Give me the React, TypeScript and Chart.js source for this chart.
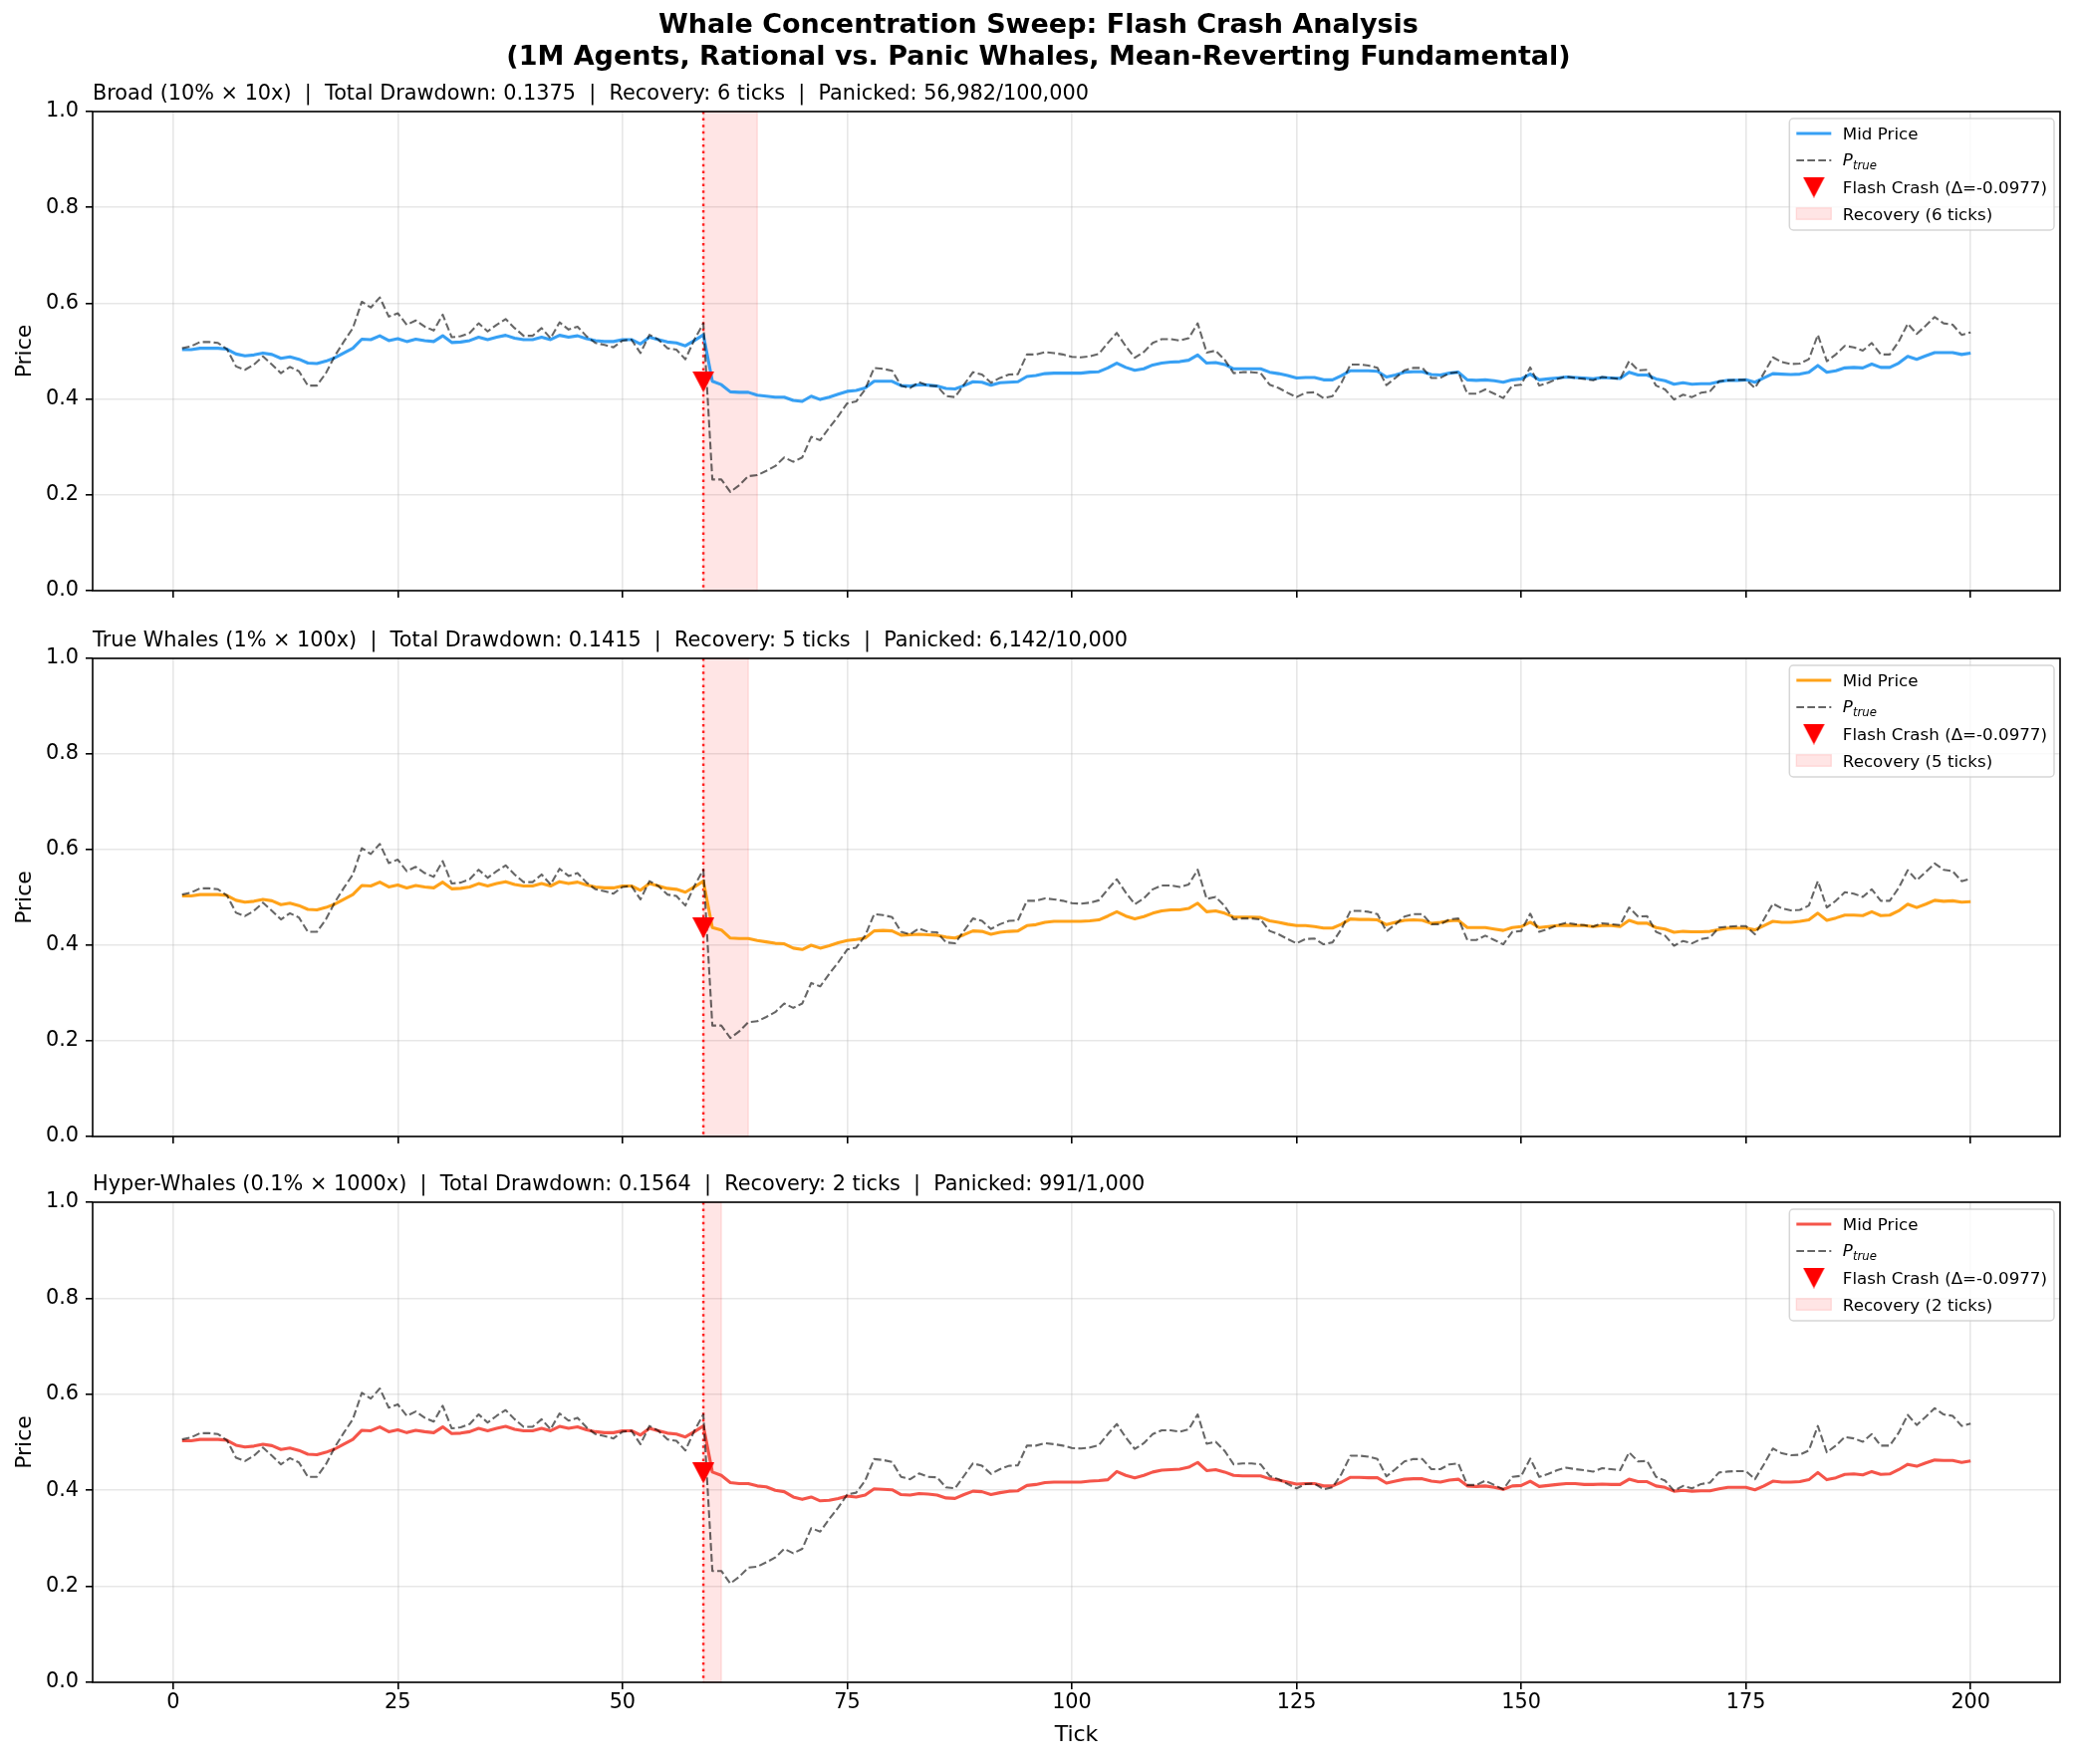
import React, { useEffect, useRef } from 'react';
import { Chart, registerables } from 'chart.js';

Chart.register(...registerables);

const FONT = '"DejaVu Sans", "Liberation Sans", sans-serif';

// ---- data ---------------------------------------------------------------

const SUPTITLE_LINES = [
  'Whale Concentration Sweep: Flash Crash Analysis',
  '(1M Agents, Rational vs. Panic Whales, Mean-Reverting Fundamental)',
];

// simulation ticks 1..200
const TICKS = Array.from({ length: 200 }, (_, i) => i + 1);

const X_TICKS = [0, 25, 50, 75, 100, 125, 150, 175, 200];
const Y_TICKS = [0, 0.2, 0.4, 0.6, 0.8, 1.0];

// fundamental price (shared by all three runs)
const P_TRUE = [
  0.506, 0.510, 0.519, 0.519, 0.517, 0.504, 0.468, 0.461, 0.472, 0.489,
  0.472, 0.454, 0.467, 0.458, 0.428, 0.428, 0.454, 0.490, 0.520, 0.548,
  0.603, 0.591, 0.612, 0.572, 0.579, 0.555, 0.564, 0.551, 0.543, 0.576,
  0.529, 0.531, 0.538, 0.558, 0.541, 0.555, 0.567, 0.548, 0.532, 0.532,
  0.548, 0.527, 0.560, 0.545, 0.551, 0.531, 0.517, 0.513, 0.508, 0.522,
  0.524, 0.496, 0.534, 0.524, 0.506, 0.503, 0.483, 0.524, 0.558, 0.232,
  0.232, 0.206, 0.220, 0.239, 0.241, 0.250, 0.260, 0.278, 0.269, 0.278,
  0.321, 0.314, 0.340, 0.364, 0.391, 0.395, 0.420, 0.465, 0.463, 0.459,
  0.428, 0.423, 0.435, 0.428, 0.427, 0.406, 0.404, 0.430, 0.456, 0.451,
  0.434, 0.444, 0.451, 0.452, 0.493, 0.493, 0.498, 0.496, 0.493, 0.488,
  0.487, 0.489, 0.494, 0.517, 0.538, 0.510, 0.486, 0.498, 0.517, 0.525,
  0.525, 0.522, 0.527, 0.558, 0.497, 0.501, 0.482, 0.454, 0.456, 0.456,
  0.454, 0.430, 0.423, 0.413, 0.404, 0.413, 0.414, 0.402, 0.406, 0.434,
  0.472, 0.472, 0.470, 0.465, 0.429, 0.444, 0.460, 0.465, 0.465, 0.444,
  0.444, 0.454, 0.456, 0.411, 0.411, 0.420, 0.411, 0.402, 0.428, 0.430,
  0.466, 0.428, 0.434, 0.442, 0.447, 0.444, 0.442, 0.439, 0.446, 0.444,
  0.442, 0.479, 0.460, 0.461, 0.428, 0.420, 0.399, 0.409, 0.404, 0.413,
  0.416, 0.437, 0.439, 0.440, 0.440, 0.423, 0.454, 0.487, 0.477, 0.473,
  0.474, 0.483, 0.534, 0.479, 0.493, 0.511, 0.508, 0.501, 0.517, 0.493,
  0.493, 0.520, 0.557, 0.536, 0.553, 0.571, 0.558, 0.555, 0.534, 0.539,
];

// mid price, ticks 1..59 (identical in every run before the crash)
const MID_PRE_CRASH = [
  0.503, 0.503, 0.506, 0.506, 0.506, 0.504, 0.494, 0.490, 0.492, 0.496,
  0.493, 0.485, 0.488, 0.483, 0.475, 0.474, 0.479, 0.486, 0.496, 0.506,
  0.525, 0.524, 0.532, 0.522, 0.526, 0.520, 0.525, 0.522, 0.520, 0.532,
  0.518, 0.519, 0.522, 0.529, 0.524, 0.529, 0.533, 0.527, 0.524, 0.524,
  0.529, 0.524, 0.533, 0.529, 0.532, 0.526, 0.522, 0.520, 0.520, 0.524,
  0.524, 0.515, 0.529, 0.524, 0.519, 0.517, 0.511, 0.522, 0.534,
];

// mid price, ticks 60..200
const MID_BROAD_POST = [
  0.437, 0.430, 0.415, 0.414, 0.414, 0.408, 0.406, 0.404, 0.404, 0.397,
  0.395, 0.406, 0.399, 0.404, 0.410, 0.416, 0.418, 0.423, 0.437, 0.437,
  0.437, 0.428, 0.427, 0.430, 0.429, 0.427, 0.422, 0.421, 0.428, 0.436,
  0.435, 0.429, 0.434, 0.435, 0.436, 0.447, 0.449, 0.453, 0.454, 0.454,
  0.454, 0.454, 0.456, 0.457, 0.465, 0.475, 0.466, 0.460, 0.463, 0.471,
  0.475, 0.477, 0.478, 0.481, 0.492, 0.475, 0.476, 0.472, 0.463, 0.463,
  0.463, 0.463, 0.456, 0.453, 0.449, 0.444, 0.445, 0.445, 0.440, 0.440,
  0.449, 0.459, 0.459, 0.459, 0.458, 0.446, 0.450, 0.456, 0.457, 0.457,
  0.451, 0.450, 0.454, 0.456, 0.440, 0.439, 0.440, 0.438, 0.435, 0.440,
  0.442, 0.452, 0.440, 0.442, 0.444, 0.446, 0.445, 0.444, 0.442, 0.445,
  0.444, 0.443, 0.456, 0.450, 0.450, 0.442, 0.438, 0.431, 0.434, 0.431,
  0.432, 0.432, 0.436, 0.439, 0.439, 0.440, 0.435, 0.444, 0.453, 0.452,
  0.451, 0.452, 0.456, 0.470, 0.456, 0.459, 0.465, 0.466, 0.465, 0.473,
  0.466, 0.466, 0.475, 0.489, 0.483, 0.490, 0.497, 0.497, 0.497, 0.493,
  0.496,
];

const MID_TRUE_WHALES_POST = [
  0.437, 0.432, 0.415, 0.414, 0.414, 0.410, 0.407, 0.404, 0.403, 0.394,
  0.391, 0.400, 0.394, 0.399, 0.405, 0.410, 0.412, 0.415, 0.430, 0.431,
  0.430, 0.421, 0.422, 0.423, 0.422, 0.421, 0.417, 0.415, 0.422, 0.430,
  0.429, 0.423, 0.427, 0.429, 0.430, 0.441, 0.443, 0.448, 0.450, 0.450,
  0.450, 0.450, 0.451, 0.453, 0.461, 0.470, 0.461, 0.455, 0.460, 0.467,
  0.472, 0.474, 0.474, 0.477, 0.488, 0.470, 0.472, 0.467, 0.459, 0.459,
  0.459, 0.458, 0.451, 0.448, 0.444, 0.441, 0.441, 0.439, 0.436, 0.436,
  0.444, 0.455, 0.454, 0.454, 0.453, 0.443, 0.448, 0.452, 0.453, 0.452,
  0.446, 0.448, 0.451, 0.452, 0.437, 0.437, 0.437, 0.434, 0.431, 0.437,
  0.439, 0.448, 0.437, 0.439, 0.441, 0.442, 0.441, 0.441, 0.439, 0.441,
  0.441, 0.439, 0.452, 0.446, 0.446, 0.437, 0.434, 0.427, 0.429, 0.428,
  0.428, 0.429, 0.433, 0.436, 0.436, 0.436, 0.432, 0.441, 0.450, 0.448,
  0.448, 0.450, 0.453, 0.467, 0.452, 0.457, 0.463, 0.463, 0.462, 0.470,
  0.462, 0.463, 0.472, 0.486, 0.479, 0.486, 0.494, 0.492, 0.493, 0.490,
  0.491,
];

const MID_HYPER_POST = [
  0.438, 0.431, 0.416, 0.414, 0.414, 0.409, 0.407, 0.400, 0.397, 0.386,
  0.381, 0.386, 0.378, 0.379, 0.383, 0.388, 0.386, 0.390, 0.403, 0.402,
  0.401, 0.391, 0.390, 0.393, 0.392, 0.390, 0.384, 0.383, 0.391, 0.398,
  0.397, 0.391, 0.395, 0.398, 0.399, 0.410, 0.412, 0.416, 0.417, 0.417,
  0.417, 0.417, 0.419, 0.420, 0.422, 0.439, 0.431, 0.426, 0.431, 0.438,
  0.442, 0.443, 0.444, 0.448, 0.458, 0.441, 0.443, 0.438, 0.431, 0.430,
  0.430, 0.430, 0.424, 0.421, 0.417, 0.413, 0.414, 0.414, 0.409, 0.409,
  0.417, 0.427, 0.427, 0.426, 0.426, 0.415, 0.419, 0.423, 0.424, 0.424,
  0.419, 0.417, 0.421, 0.423, 0.409, 0.408, 0.409, 0.406, 0.402, 0.409,
  0.410, 0.419, 0.408, 0.410, 0.412, 0.414, 0.414, 0.412, 0.412, 0.413,
  0.412, 0.412, 0.423, 0.418, 0.418, 0.409, 0.406, 0.398, 0.400, 0.398,
  0.399, 0.399, 0.403, 0.406, 0.406, 0.406, 0.401, 0.409, 0.419, 0.417,
  0.417, 0.418, 0.422, 0.437, 0.422, 0.426, 0.433, 0.434, 0.432, 0.439,
  0.433, 0.434, 0.443, 0.454, 0.450, 0.457, 0.463, 0.462, 0.462, 0.458,
  0.461,
];

const CRASH_TICK = 59;
const CRASH_DELTA = -0.0977;

const RUN_NAMES = ['Broad (10% × 10x)', 'True Whales (1% × 100x)', 'Hyper-Whales (0.1% × 1000x)'];
const RUN_DRAWDOWNS = ['0.1375', '0.1415', '0.1564'];
const RUN_RECOVERY_TICKS = [6, 5, 2];
const RUN_PANICKED = ['56,982/100,000', '6,142/10,000', '991/1,000'];
const RUN_POST_CRASH = [MID_BROAD_POST, MID_TRUE_WHALES_POST, MID_HYPER_POST];
const RUN_COLORS = ['#2196F3', '#FF9800', '#F44336'];

// ---- layout -------------------------------------------------------------

const PAGE_W = 2085;
const PAGE_H = 1771;
const X_MIN = -8.95;
const X_MAX = 209.95;
const Y_AXIS_W = 93;
const RIGHT_PAD = 17;

const PANEL_BOXES = [
  { canvasTop: 0, canvasHeight: 620, padTop: 112, xAxisHeight: 27 },
  { canvasTop: 620, canvasHeight: 554, padTop: 41, xAxisHeight: 33 },
  { canvasTop: 1174, canvasHeight: 597, padTop: 33, xAxisHeight: 82 },
];

const GRID_COLOR = 'rgba(176,176,176,0.3)';
const DASH_COLOR = 'rgba(0,0,0,0.6)';
const SPAN_COLOR = 'rgba(255,0,0,0.1)';
const TICK_FONT = 20.8;
const LEGEND_FONT = 16.7;

function withAlpha(hex: string, a: number): string {
  const n = parseInt(hex.slice(1), 16);
  return `rgba(${(n >> 16) & 255},${(n >> 8) & 255},${n & 255},${a})`;
}

function makeDownTriangle(w: number, h: number): HTMLCanvasElement {
  const c = document.createElement('canvas');
  c.width = w;
  c.height = h;
  const g = c.getContext('2d') as CanvasRenderingContext2D;
  g.fillStyle = '#ff0000';
  g.beginPath();
  g.moveTo(0, 0);
  g.lineTo(w, 0);
  g.lineTo(w / 2, h);
  g.closePath();
  g.fill();
  return c;
}

function roundRectPath(ctx: CanvasRenderingContext2D, x: number, y: number, w: number, h: number, r: number) {
  ctx.beginPath();
  ctx.moveTo(x + r, y);
  ctx.lineTo(x + w - r, y);
  ctx.arcTo(x + w, y, x + w, y + r, r);
  ctx.lineTo(x + w, y + h - r);
  ctx.arcTo(x + w, y + h, x + w - r, y + h, r);
  ctx.lineTo(x + r, y + h);
  ctx.arcTo(x, y + h, x, y + h - r, r);
  ctx.lineTo(x, y + r);
  ctx.arcTo(x, y, x + r, y, r);
  ctx.closePath();
}

function drawLegend(
  ctx: CanvasRenderingContext2D,
  area: { left: number; right: number; top: number; bottom: number },
  color: string,
  recovery: number,
  marker: HTMLCanvasElement,
) {
  const font = `${LEGEND_FONT}px ${FONT}`;
  const italic = `italic ${LEGEND_FONT}px ${FONT}`;
  const subFont = `italic ${LEGEND_FONT * 0.7}px ${FONT}`;
  const midLabel = 'Mid Price';
  const crashLabel = `Flash Crash (Δ=${CRASH_DELTA.toFixed(4)})`;
  const recLabel = `Recovery (${recovery} ticks)`;

  ctx.font = font;
  const wMid = ctx.measureText(midLabel).width;
  const wCrash = ctx.measureText(crashLabel).width;
  const wRec = ctx.measureText(recLabel).width;
  ctx.font = italic;
  const wP = ctx.measureText('P').width;
  ctx.font = subFont;
  const wSub = ctx.measureText('true').width;
  const maxW = Math.max(wMid, wCrash, wRec, wP + wSub);

  const boxW = 53.5 + maxW + 7;
  const boxH = 112;
  const bx = area.right - 6 - boxW;
  const by = area.top + 7;

  ctx.save();
  roundRectPath(ctx, bx, by, boxW, boxH, 4);
  ctx.fillStyle = 'rgba(255,255,255,0.8)';
  ctx.fill();
  ctx.strokeStyle = 'rgba(204,204,204,0.8)';
  ctx.lineWidth = 1.5;
  ctx.stroke();

  const rows = [15, 42, 69, 95.5].map((d) => by + d);
  const hx0 = bx + 7;
  const hx1 = bx + 42;
  const tx = bx + 53.5;

  // Mid Price
  ctx.strokeStyle = withAlpha(color, 0.9);
  ctx.lineWidth = 3.1;
  ctx.beginPath();
  ctx.moveTo(hx0, rows[0]);
  ctx.lineTo(hx1, rows[0]);
  ctx.stroke();

  // P_true
  ctx.strokeStyle = DASH_COLOR;
  ctx.lineWidth = 2.08;
  ctx.setLineDash([7.7, 3.3]);
  ctx.beginPath();
  ctx.moveTo(hx0, rows[1]);
  ctx.lineTo(hx1, rows[1]);
  ctx.stroke();
  ctx.setLineDash([]);

  // Flash crash marker
  ctx.drawImage(marker, (hx0 + hx1) / 2 - marker.width / 2, rows[2] - marker.height / 2);

  // Recovery patch
  ctx.fillStyle = SPAN_COLOR;
  ctx.fillRect(hx0, rows[3] - 5.8, hx1 - hx0, 11.6);
  ctx.strokeStyle = SPAN_COLOR;
  ctx.lineWidth = 1.5;
  ctx.strokeRect(hx0, rows[3] - 5.8, hx1 - hx0, 11.6);

  ctx.fillStyle = '#000';
  ctx.textAlign = 'left';
  ctx.textBaseline = 'alphabetic';
  ctx.font = font;
  ctx.fillText(midLabel, tx, rows[0] + 6);
  ctx.fillText(crashLabel, tx, rows[2] + 6);
  ctx.fillText(recLabel, tx, rows[3] + 6);
  ctx.font = italic;
  ctx.fillText('P', tx, rows[1] + 5);
  ctx.font = subFont;
  ctx.fillText('true', tx + wP, rows[1] + 9.3);
  ctx.restore();
}

function Panel({ index }: { index: number }) {
  const ref = useRef<HTMLCanvasElement>(null);
  const box = PANEL_BOXES[index];

  useEffect(() => {
    const canvas = ref.current;
    if (!canvas) return;
    const isLast = index === PANEL_BOXES.length - 1;
    const color = RUN_COLORS[index];
    const recovery = RUN_RECOVERY_TICKS[index];
    const mid = MID_PRE_CRASH.concat(RUN_POST_CRASH[index]);
    const crashY = MID_PRE_CRASH[CRASH_TICK - 1] + CRASH_DELTA;
    const marker = makeDownTriangle(22, 21);
    const title = `${RUN_NAMES[index]}  |  Total Drawdown: ${RUN_DRAWDOWNS[index]}  |  Recovery: ${recovery} ticks  |  Panicked: ${RUN_PANICKED[index]}`;

    const decor = {
      id: 'panelDecor',
      beforeDatasetsDraw(chart: any) {
        const { ctx, chartArea: a, scales } = chart;
        const x0 = scales.x.getPixelForValue(CRASH_TICK);
        const x1 = scales.x.getPixelForValue(CRASH_TICK + recovery);
        ctx.save();
        ctx.fillStyle = SPAN_COLOR;
        ctx.fillRect(x0, a.top, x1 - x0, a.bottom - a.top);
        ctx.strokeStyle = SPAN_COLOR;
        ctx.lineWidth = 1.5;
        ctx.strokeRect(x0, a.top, x1 - x0, a.bottom - a.top);
        ctx.strokeStyle = 'rgba(255,0,0,0.85)';
        ctx.lineWidth = 2.5;
        ctx.setLineDash([2.5, 4.1]);
        ctx.beginPath();
        ctx.moveTo(x0, a.top);
        ctx.lineTo(x0, a.bottom);
        ctx.stroke();
        ctx.restore();
      },
      afterDraw(chart: any) {
        const { ctx, chartArea: a } = chart;
        ctx.save();
        // axes frame
        ctx.strokeStyle = '#000';
        ctx.lineWidth = 1.6;
        ctx.strokeRect(a.left, a.top, a.right - a.left, a.bottom - a.top);
        // subplot title
        ctx.fillStyle = '#000';
        ctx.font = `20.8px ${FONT}`;
        ctx.textAlign = 'left';
        ctx.textBaseline = 'alphabetic';
        ctx.fillText(title, a.left, a.top - 12);
        // axis labels
        ctx.font = `22px ${FONT}`;
        ctx.textAlign = 'center';
        ctx.textBaseline = 'middle';
        ctx.save();
        ctx.translate(25, (a.top + a.bottom) / 2);
        ctx.rotate(-Math.PI / 2);
        ctx.fillText('Price', 0, 0);
        ctx.restore();
        if (isLast) {
          ctx.fillText('Tick', (a.left + a.right) / 2, a.bottom + 53);
        }
        ctx.restore();
        drawLegend(ctx, a, color, recovery, marker);
      },
    };

    const gridOpts = {
      color: GRID_COLOR,
      lineWidth: 1.6,
      drawTicks: true,
      tickLength: 7,
      tickColor: '#000',
      tickWidth: 1.6,
    };

    const chart = new Chart(canvas, {
      type: 'line',
      data: {
        datasets: [
          {
            label: 'Flash Crash',
            data: [{ x: CRASH_TICK, y: crashY }],
            showLine: false,
            pointStyle: marker as any,
            pointRadius: 11,
            pointHoverRadius: 11,
            backgroundColor: '#ff0000',
            borderColor: '#ff0000',
            order: 0,
          },
          {
            label: 'P_true',
            data: P_TRUE.map((y, i) => ({ x: TICKS[i], y })),
            borderColor: DASH_COLOR,
            borderWidth: 2.08,
            borderDash: [7.7, 3.3],
            borderJoinStyle: 'round',
            pointRadius: 0,
            pointHoverRadius: 0,
            tension: 0,
            fill: false,
            order: 1,
          },
          {
            label: 'Mid Price',
            data: mid.map((y, i) => ({ x: TICKS[i], y })),
            borderColor: withAlpha(color, 0.9),
            borderWidth: 3.1,
            borderJoinStyle: 'round',
            pointRadius: 0,
            pointHoverRadius: 0,
            tension: 0,
            fill: false,
            order: 2,
          },
        ],
      },
      options: {
        animation: false,
        responsive: false,
        maintainAspectRatio: false,
        events: [],
        layout: { padding: { top: box.padTop, right: RIGHT_PAD, bottom: 0, left: 0 } },
        plugins: {
          legend: { display: false },
          tooltip: { enabled: false },
          title: { display: false },
        },
        scales: {
          x: {
            type: 'linear',
            min: X_MIN,
            max: X_MAX,
            afterBuildTicks: (axis: any) => {
              axis.ticks = X_TICKS.map((v) => ({ value: v }));
            },
            afterFit: (axis: any) => {
              axis.height = box.xAxisHeight;
            },
            ticks: {
              display: isLast,
              autoSkip: false,
              maxRotation: 0,
              padding: 1,
              color: '#000',
              font: { family: FONT, size: TICK_FONT },
              callback: (v: any) => String(v),
            },
            grid: gridOpts,
            border: { display: false },
          },
          y: {
            type: 'linear',
            min: 0,
            max: 1,
            afterBuildTicks: (axis: any) => {
              axis.ticks = Y_TICKS.map((v) => ({ value: v }));
            },
            afterFit: (axis: any) => {
              axis.width = Y_AXIS_W;
            },
            ticks: {
              padding: 7,
              color: '#000',
              font: { family: FONT, size: TICK_FONT },
              callback: (v: any) => Number(v).toFixed(1),
            },
            grid: gridOpts,
            border: { display: false },
          },
        },
      } as any,
      plugins: [decor],
    });

    return () => chart.destroy();
  }, [index]);

  return (
    <canvas
      ref={ref}
      width={PAGE_W}
      height={box.canvasHeight}
      style={{ position: 'absolute', left: 0, top: box.canvasTop, width: PAGE_W, height: box.canvasHeight }}
    />
  );
}

export default function App() {
  return (
    <div style={{ position: 'absolute', left: 0, top: 0, width: PAGE_W, height: PAGE_H, background: '#fff', overflow: 'hidden' }}>
      {PANEL_BOXES.map((_, i) => (
        <Panel key={i} index={i} />
      ))}
      <div
        style={{
          position: 'absolute',
          left: 0,
          top: 8,
          width: PAGE_W,
          textAlign: 'center',
          fontFamily: FONT,
          fontWeight: 'bold',
          fontSize: 27,
          lineHeight: '32.4px',
          color: '#000',
        }}
      >
        {SUPTITLE_LINES.map((t) => (
          <div key={t}>{t}</div>
        ))}
      </div>
    </div>
  );
}
